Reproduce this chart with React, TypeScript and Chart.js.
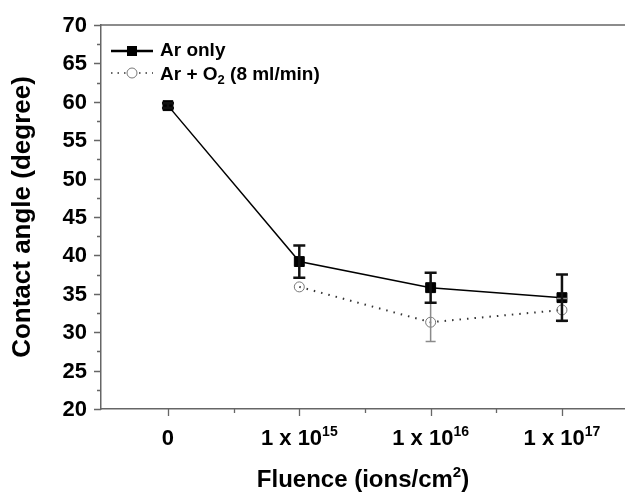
import React, { useEffect, useRef } from "react";
import { Chart, registerables } from "chart.js";

Chart.register(...registerables);

const xValues = [0, 1, 2, 3];
const tickBase = ["0", "1 x 10", "1 x 10", "1 x 10"];
const tickExp = ["", "15", "16", "17"];
const arOnly = [59.5, 39.2, 35.8, 34.5];
const arOnlyErr = [0.3, 2.1, 1.95, 3.0];
const arO2: (number | null)[] = [null, 35.9, 31.3, 32.9];
const arO2Err: (number | null)[] = [null, null, 2.5, 1.5];
const yMajorTicks = [20, 25, 30, 35, 40, 45, 50, 55, 60, 65, 70];
const yMinorTicks = [22.5, 27.5, 32.5, 37.5, 42.5, 47.5, 52.5, 57.5, 62.5, 67.5];
const xMinorTicks = [0.5, 1.5, 2.5];
const legendLabels = ["Ar only", "Ar + O", "2", " (8 ml/min)"];
const xTitle = ["Fluence (ions/cm", "2", ")"];
const yTitle = "Contact angle (degree)";

const FONT = '"Liberation Sans", Arial, sans-serif';
const AXIS_COLOR = "#666";

const W = 625;
const H = 492;

export default function App() {
  const ref = useRef<HTMLCanvasElement | null>(null);

  useEffect(() => {
    const canvas = ref.current;
    if (!canvas) return;

    const drawPlugin = {
      id: "custom",
      afterDatasetsDraw(chart: any) {
        const ctx = chart.ctx;
        const xs = chart.scales.x;
        const ys = chart.scales.y;
        const drawErr = (vals: (number | null)[], errs: (number | null)[], color: string, lw: number, cap: number) => {
          ctx.save();
          ctx.strokeStyle = color;
          ctx.lineWidth = lw;
          for (let i = 0; i < vals.length; i++) {
            const v = vals[i];
            const e = errs[i];
            if (v == null || e == null) continue;
            const px = xs.getPixelForValue(xValues[i]);
            const top = ys.getPixelForValue(v + e);
            const bot = ys.getPixelForValue(v - e);
            ctx.beginPath();
            ctx.moveTo(px, top);
            ctx.lineTo(px, bot);
            ctx.moveTo(px - cap, top);
            ctx.lineTo(px + cap, top);
            ctx.moveTo(px - cap, bot);
            ctx.lineTo(px + cap, bot);
            ctx.stroke();
          }
          ctx.restore();
        };
        drawErr(arO2, arO2Err, "#8a8a8a", 1.5, 5);
        drawErr(arOnly, arOnlyErr, "#111", 2.5, 6);
      },
      afterDraw(chart: any) {
        const ctx = chart.ctx;
        const xs = chart.scales.x;
        const ys = chart.scales.y;
        const area = chart.chartArea;
        ctx.save();
        // top border
        ctx.strokeStyle = AXIS_COLOR;
        ctx.lineWidth = 1.5;
        ctx.beginPath();
        ctx.moveTo(area.left, area.top);
        ctx.lineTo(area.right, area.top);
        ctx.stroke();
        // ticks
        ctx.lineWidth = 1.3;
        ctx.beginPath();
        yMajorTicks.forEach((v) => {
          const py = Math.round(ys.getPixelForValue(v)) + 0.5;
          ctx.moveTo(area.left, py);
          ctx.lineTo(area.left - 7, py);
        });
        yMinorTicks.forEach((v) => {
          const py = Math.round(ys.getPixelForValue(v)) + 0.5;
          ctx.moveTo(area.left, py);
          ctx.lineTo(area.left - 4, py);
        });
        xValues.forEach((v) => {
          const px = Math.round(xs.getPixelForValue(v)) + 0.5;
          ctx.moveTo(px, area.bottom);
          ctx.lineTo(px, area.bottom + 7);
        });
        xMinorTicks.forEach((v) => {
          const px = Math.round(xs.getPixelForValue(v)) + 0.5;
          ctx.moveTo(px, area.bottom);
          ctx.lineTo(px, area.bottom + 4);
        });
        ctx.stroke();

        // y tick labels
        ctx.fillStyle = "#000";
        ctx.font = `bold 22px ${FONT}`;
        ctx.textAlign = "right";
        ctx.textBaseline = "middle";
        yMajorTicks.forEach((v) => {
          ctx.fillText(String(v), area.left - 14, ys.getPixelForValue(v) + 1);
        });

        // x tick labels
        ctx.textAlign = "left";
        ctx.textBaseline = "alphabetic";
        const baseY = 445;
        xValues.forEach((v, i) => {
          ctx.font = `bold 22px ${FONT}`;
          const w1 = ctx.measureText(tickBase[i]).width;
          ctx.font = `bold 14px ${FONT}`;
          const w2 = tickExp[i] ? ctx.measureText(tickExp[i]).width : 0;
          const total = w1 + w2;
          const px = xs.getPixelForValue(v);
          const sx = px - total / 2;
          ctx.font = `bold 22px ${FONT}`;
          ctx.fillText(tickBase[i], sx, baseY);
          if (tickExp[i]) {
            ctx.font = `bold 14px ${FONT}`;
            ctx.fillText(tickExp[i], sx + w1, baseY - 9);
          }
        });

        // x title
        {
          ctx.font = `bold 24px ${FONT}`;
          const a = ctx.measureText(xTitle[0]).width;
          const c = ctx.measureText(xTitle[2]).width;
          ctx.font = `bold 15px ${FONT}`;
          const b = ctx.measureText(xTitle[1]).width;
          const total = a + b + c;
          const cx = (area.left + area.right) / 2;
          let sx = cx - total / 2;
          const by = 487;
          ctx.font = `bold 24px ${FONT}`;
          ctx.fillText(xTitle[0], sx, by);
          sx += a;
          ctx.font = `bold 15px ${FONT}`;
          ctx.fillText(xTitle[1], sx, by - 10);
          sx += b;
          ctx.font = `bold 24px ${FONT}`;
          ctx.fillText(xTitle[2], sx, by);
        }

        // y title
        ctx.save();
        ctx.translate(23, (area.top + area.bottom) / 2);
        ctx.rotate(-Math.PI / 2);
        ctx.font = `bold 26px ${FONT}`;
        ctx.textAlign = "center";
        ctx.textBaseline = "middle";
        ctx.fillText(yTitle, 0, 0);
        ctx.restore();

        // legend
        const lx0 = 111;
        const lx1 = 153;
        const lxc = 132;
        const r1 = 51;
        const r2 = 73;
        ctx.strokeStyle = "#000";
        ctx.lineWidth = 2.5;
        ctx.beginPath();
        ctx.moveTo(lx0, r1);
        ctx.lineTo(lx1, r1);
        ctx.stroke();
        ctx.fillStyle = "#000";
        ctx.fillRect(lxc - 5, r1 - 5, 10, 10);

        ctx.strokeStyle = "#666";
        ctx.lineWidth = 1.8;
        ctx.setLineDash([1.5, 5]);
        ctx.beginPath();
        ctx.moveTo(lx0, r2);
        ctx.lineTo(lxc - 6, r2);
        ctx.moveTo(lxc + 7, r2);
        ctx.lineTo(lx1, r2);
        ctx.stroke();
        ctx.setLineDash([]);
        ctx.strokeStyle = "#777";
        ctx.lineWidth = 1;
        ctx.beginPath();
        ctx.arc(lxc, r2, 5, 0, Math.PI * 2);
        ctx.stroke();

        ctx.fillStyle = "#000";
        ctx.textAlign = "left";
        ctx.textBaseline = "alphabetic";
        ctx.font = `bold 19px ${FONT}`;
        ctx.fillText(legendLabels[0], 160, r1 + 5);
        let sx = 160;
        ctx.fillText(legendLabels[1], sx, r2 + 7);
        sx += ctx.measureText(legendLabels[1]).width;
        ctx.font = `bold 13px ${FONT}`;
        ctx.fillText(legendLabels[2], sx, r2 + 11);
        sx += ctx.measureText(legendLabels[2]).width;
        ctx.font = `bold 19px ${FONT}`;
        ctx.fillText(legendLabels[3], sx, r2 + 7);

        ctx.restore();
      },
    };

    const chart = new Chart(canvas, {
      type: "line",
      data: {
        datasets: [
          {
            label: "Ar only",
            data: xValues.map((x, i) => ({ x, y: arOnly[i] })),
            borderColor: "#000",
            backgroundColor: "#000",
            borderWidth: 1.5,
            pointStyle: "rect",
            pointRadius: 7,
            pointBorderWidth: 1,
            pointBackgroundColor: "#000",
            pointBorderColor: "#000",
            tension: 0,
          },
          {
            label: "Ar + O2 (8 ml/min)",
            data: xValues.map((x, i) => ({ x, y: arO2[i] })),
            borderColor: "#333",
            borderWidth: 2,
            borderDash: [1.5, 6],
            pointStyle: "circle",
            pointRadius: 5,
            pointBorderWidth: 1,
            pointBackgroundColor: "rgba(0,0,0,0)",
            pointBorderColor: "#777",
            tension: 0,
          },
        ],
      },
      options: {
        responsive: false,
        animation: false,
        layout: { autoPadding: false, padding: { top: 25, left: 0, right: 0, bottom: 0 } },
        plugins: {
          legend: { display: false },
          tooltip: { enabled: false },
        },
        scales: {
          x: {
            type: "linear",
            min: -0.51,
            max: 3.48,
            grid: { display: false },
            ticks: { display: false },
            border: { display: true, color: AXIS_COLOR, width: 1.5 },
            afterFit: (s: any) => {
              s.height = 83;
            },
          },
          y: {
            min: 20,
            max: 70,
            grid: { display: false },
            ticks: { display: false },
            border: { display: true, color: AXIS_COLOR, width: 1.5 },
            afterFit: (s: any) => {
              s.width = 101;
            },
          },
        },
      },
      plugins: [drawPlugin],
    } as any);

    return () => chart.destroy();
  }, []);

  return (
    <div style={{ position: "fixed", left: 0, top: 0, width: W, height: H, background: "#fff" }}>
      <canvas ref={ref} width={W} height={H} style={{ width: W, height: H, display: "block" }} />
    </div>
  );
}
